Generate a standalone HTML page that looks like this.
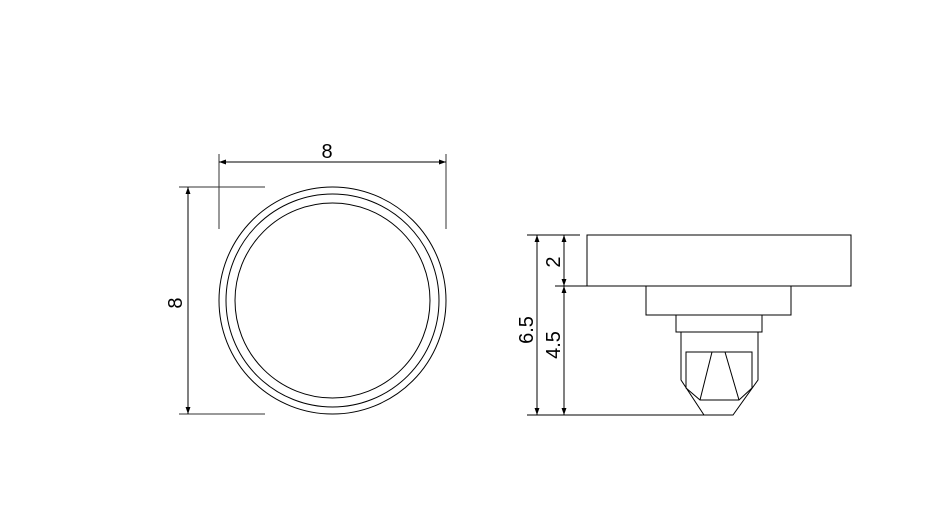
<!DOCTYPE html>
<html><head><meta charset="utf-8"><style>html,body{margin:0;padding:0;background:#fff}svg{display:block}</style></head>
<body>
<svg width="928" height="512" viewBox="0 0 928 512" xmlns="http://www.w3.org/2000/svg" font-family="Liberation Sans, sans-serif">
<defs>
<marker id="a" viewBox="0 0 10 10" refX="10" refY="5" markerWidth="12" markerHeight="7" markerUnits="userSpaceOnUse" orient="auto-start-reverse"><path d="M0,1.5L10,5L0,8.5z" fill="#000"/></marker>
</defs>
<g fill="none" stroke="#000" stroke-width="1">
<circle cx="332.5" cy="300.5" r="113.5"/>
<circle cx="332.5" cy="300.5" r="106.5"/>
<circle cx="332.5" cy="300.5" r="97.5"/>
<line x1="219" y1="154" x2="219" y2="229" stroke="#333"/>
<line x1="446" y1="154" x2="446" y2="229" stroke="#333"/>
<line x1="219" y1="162" x2="446" y2="162" marker-start="url(#a)" marker-end="url(#a)"/>
<line x1="179" y1="187" x2="265" y2="187" stroke="#333"/>
<line x1="179" y1="414" x2="265" y2="414" stroke="#333"/>
<line x1="188" y1="187" x2="188" y2="414" marker-start="url(#a)" marker-end="url(#a)"/>

<rect x="587" y="235" width="264" height="51"/>
<rect x="646" y="286" width="145" height="29"/>
<rect x="676" y="315" width="86" height="17"/>
<path d="M681,332 V380 L704,415 H733 L758,380 V332"/>
<path d="M686,352 V388 L700,400 H739 L752,388 V352 Z"/>
<path d="M712,352 L700,400 M725,352 L739,400"/>
<line x1="527" y1="235" x2="580" y2="235"/>
<line x1="555" y1="286" x2="587" y2="286"/>
<line x1="527" y1="415" x2="705" y2="415"/>
<line x1="537" y1="235" x2="537" y2="415" marker-start="url(#a)" marker-end="url(#a)"/>
<line x1="564" y1="235" x2="564" y2="286" marker-start="url(#a)" marker-end="url(#a)"/>
<line x1="564" y1="286" x2="564" y2="415" marker-start="url(#a)" marker-end="url(#a)"/>
</g>
<g font-size="20" fill="#000" text-anchor="middle">
<text x="327" y="158">8</text>
<text transform="translate(182,303) rotate(-90)">8</text>
<text transform="translate(560,262) rotate(-90)">2</text>
<text transform="translate(533,330) rotate(-90)">6.5</text>
<text transform="translate(560,345) rotate(-90)">4.5</text>
</g>
</svg>
</body></html>
